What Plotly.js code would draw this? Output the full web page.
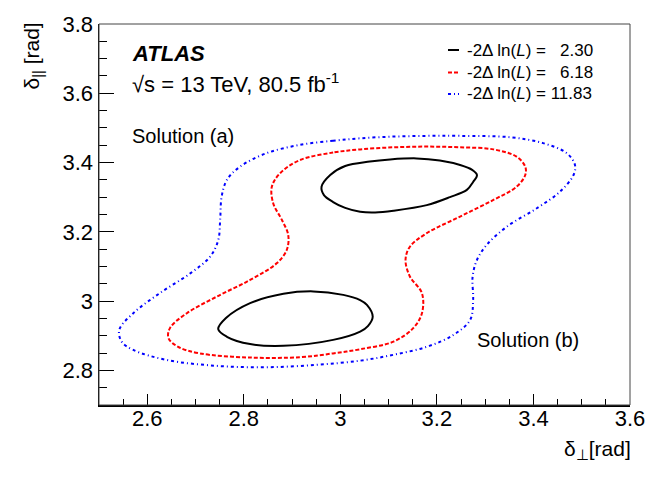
<!DOCTYPE html>
<html>
<head>
<meta charset="utf-8">
<script src="https://cdn.plot.ly/plotly-3.0.1.min.js"></script>
<style>
  html, body { margin: 0; padding: 0; background: #fff; }
  #chart { width: 664px; height: 477px; }
</style>
</head>
<body>
<div id="chart"></div>
<script>
// contour levels: -2 dln(L) = 2.30, 6.18, 11.83
const levelLabels = ['2.30', '6.18', '11.83']

// 2.30 contour, upper island (solution a)
const c1aX = [2.961, 2.979, 3.010, 3.061, 3.103, 3.158, 3.206, 3.248, 3.273, 3.283, 3.275, 3.262, 3.227, 3.179, 3.110, 3.072, 3.041, 3.010, 2.985, 2.966, 2.961]
const c1aY = [3.330, 3.364, 3.390, 3.403, 3.409, 3.412, 3.406, 3.393, 3.379, 3.364, 3.344, 3.321, 3.300, 3.277, 3.261, 3.256, 3.258, 3.269, 3.286, 3.306, 3.330]

// 2.30 contour, lower island (solution b)
const c1bX = [2.747, 2.763, 2.813, 2.882, 2.944, 3.006, 3.041, 3.055, 3.067, 3.057, 3.041, 2.985, 2.882, 2.813, 2.765, 2.747]
const c1bY = [2.919, 2.951, 2.994, 3.021, 3.028, 3.018, 3.003, 2.989, 2.955, 2.928, 2.912, 2.888, 2.871, 2.876, 2.897, 2.919]

// 6.18 contour
const c2X = [3.041, 2.985, 2.916, 2.875, 2.858, 2.861, 2.879, 2.892, 2.889, 2.868, 2.813, 2.744, 2.682, 2.647, 2.644, 2.664, 2.709, 2.813, 2.916, 2.985,
             3.041, 3.110, 3.151, 3.169, 3.169, 3.144, 3.135, 3.144, 3.179, 3.248, 3.317, 3.365, 3.383, 3.383, 3.365, 3.317, 3.248, 3.179, 3.110, 3.041]
const c2Y = [3.438, 3.429, 3.407, 3.369, 3.330, 3.282, 3.234, 3.191, 3.148, 3.109, 3.061, 3.013, 2.965, 2.922, 2.893, 2.868, 2.849, 2.837, 2.838, 2.849,
             2.861, 2.883, 2.922, 2.965, 3.023, 3.071, 3.119, 3.157, 3.196, 3.244, 3.292, 3.330, 3.364, 3.388, 3.417, 3.438, 3.444, 3.446, 3.444, 3.438]

// 11.83 contour
const c3X = [3.041, 2.985, 2.916, 2.847, 2.792, 2.765, 2.754, 2.751, 2.747, 2.730, 2.689, 2.626, 2.571, 2.542, 2.547, 2.571, 2.640, 2.744, 2.847, 2.951,
             3.041, 3.110, 3.179, 3.234, 3.269, 3.275, 3.274, 3.283, 3.303, 3.345, 3.407, 3.455, 3.483, 3.486, 3.469, 3.420, 3.352, 3.248, 3.179, 3.110, 3.041]
const c3Y = [3.470, 3.463, 3.451, 3.427, 3.388, 3.350, 3.301, 3.234, 3.176, 3.128, 3.080, 3.023, 2.965, 2.917, 2.883, 2.859, 2.830, 2.813, 2.809, 2.816,
             2.828, 2.845, 2.868, 2.902, 2.946, 3.003, 3.071, 3.119, 3.162, 3.215, 3.268, 3.316, 3.364, 3.393, 3.427, 3.456, 3.473, 3.477, 3.477, 3.475, 3.470]

const lineStyles = [
    { color: 'black', width: 2, dash: 'solid' },
    { color: '#ff0000', width: 2, dash: '4px,2px' },
    { color: '#0000ff', width: 2, dash: '3px,3px,1px,3px' },
]

const font = 'Liberation Sans, Arial, Helvetica, sans-serif'

function contour(x, y, style) {
    return {
        x: x,
        y: y,
        type: 'scatter',
        mode: 'lines',
        line: { shape: 'spline', smoothing: 1, color: style.color, width: style.width, dash: style.dash },
        hoverinfo: 'skip',
        showlegend: false,
    }
}

const traces = [
    contour(c3X, c3Y, lineStyles[2]),
    contour(c2X, c2Y, lineStyles[1]),
    contour(c1bX, c1bY, lineStyles[0]),
    contour(c1aX, c1aY, lineStyles[0]),
]

// plot frame in pixels: left 99, right 630, top 24, bottom 405
const px = p => (p - 99) / 531
const py = p => (405 - p) / 381

const annotations = [
    { text: '<b><i>ATLAS</i></b>', x: px(130), y: py(54), size: 22 },
    { text: '\u221As = 13 TeV, 80.5 fb<sup>-1</sup>', x: px(130), y: py(83), size: 22 },
    { text: 'Solution (a)', x: px(130), y: py(135.5), size: 20 },
    { text: 'Solution (b)', x: px(475), y: py(339.5), size: 20 },
].map(a => ({
    text: a.text, x: a.x, y: a.y, xref: 'paper', yref: 'paper',
    xanchor: 'left', yanchor: 'middle', showarrow: false,
    font: { family: font, size: a.size, color: 'black' },
}))

// legend built by hand so the line samples stay short, ROOT style
const legendRows = [50, 72.5, 94]
const shapes = []
levelLabels.forEach((lab, i) => {
    const pad = '\u00a0'.repeat(2 * (5 - lab.length))
    annotations.push({
        text: '-2\u0394 ln(<i>L</i>) = ' + pad + lab,
        x: px(465), y: py(legendRows[i]), xref: 'paper', yref: 'paper',
        xanchor: 'left', yanchor: 'middle', showarrow: false,
        font: { family: font, size: 17, color: 'black' },
    })
    shapes.push({
        type: 'line', xref: 'paper', yref: 'paper',
        x0: px(448), x1: px(459), y0: py(legendRows[i]), y1: py(legendRows[i]),
        line: { color: lineStyles[i].color, width: 2, dash: lineStyles[i].dash },
    })
})

// axis titles sit at the axis ends
annotations.push({
    text: '\u03b4<sub>\u22a5</sub>[rad]', x: px(633), y: py(450), xref: 'paper', yref: 'paper',
    xanchor: 'right', yanchor: 'middle', showarrow: false,
    font: { family: font, size: 21, color: 'black' },
})
annotations.push({
    text: '\u03b4<sub>||</sub> [rad]', x: px(32), y: py(21), xref: 'paper', yref: 'paper',
    xanchor: 'center', yanchor: 'top', textangle: -90, showarrow: false,
    font: { family: font, size: 21, color: 'black' },
})

// thin frame on top and right
shapes.push({
    type: 'rect', xref: 'paper', yref: 'paper', x0: 0, x1: 1, y0: 0, y1: 1,
    line: { color: '#444', width: 1 },
})

const axisCommon = {
    showgrid: false,
    zeroline: false,
    showline: true,
    linecolor: 'black',
    linewidth: 1.5,
    ticks: 'inside',
    tickcolor: 'black',
    tickwidth: 1,
    tickfont: { family: font, size: 22, color: 'black' },
}

const layout = {
    width: 664,
    height: 477,
    margin: { l: 99, r: 34, t: 24, b: 72 },
    paper_bgcolor: 'white',
    plot_bgcolor: 'white',
    xaxis: Object.assign({}, axisCommon, {
        range: [2.5, 3.6], dtick: 0.2, tick0: 2.6, ticklen: 11, ticklabelstandoff: -7,
        minor: { dtick: 0.05, ticklen: 6, ticks: 'inside', tickcolor: 'black', tickwidth: 1 },
    }),
    yaxis: Object.assign({}, axisCommon, {
        range: [2.7, 3.8], dtick: 0.2, tick0: 2.8, ticklen: 15,
        minor: { dtick: 0.05, ticklen: 8, ticks: 'inside', tickcolor: 'black', tickwidth: 1 },
    }),
    annotations: annotations,
    shapes: shapes,
    showlegend: false,
}

Plotly.newPlot('chart', traces, layout, { staticPlot: true })
</script>
</body>
</html>
